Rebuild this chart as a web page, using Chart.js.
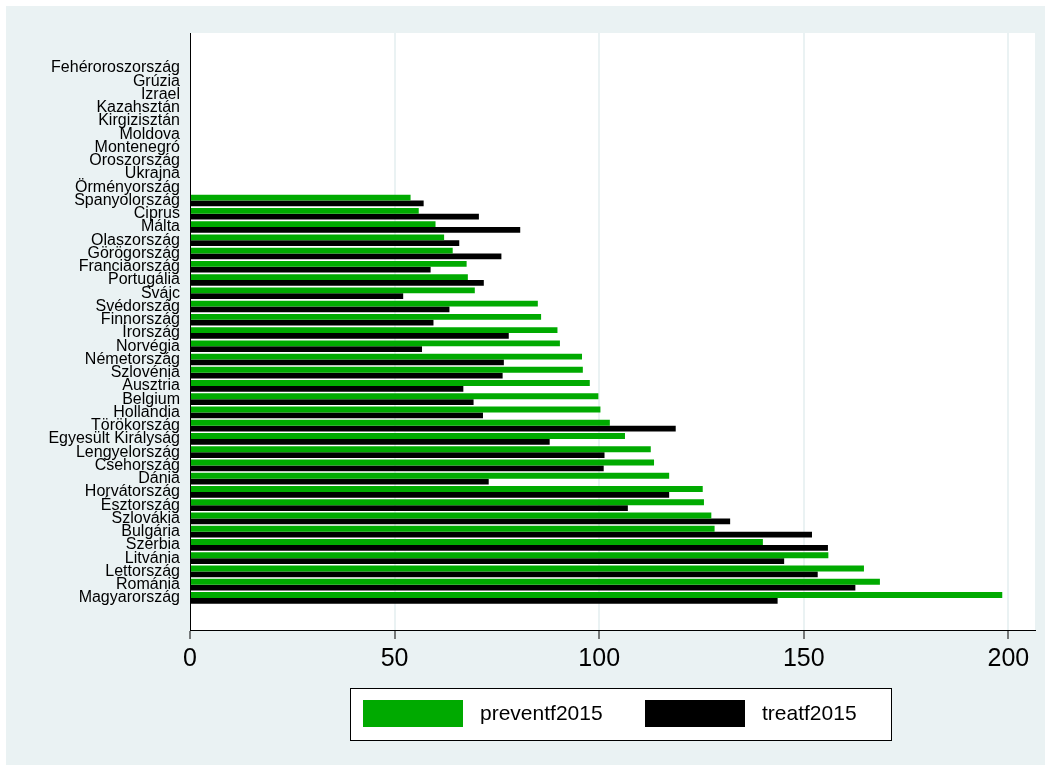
<!DOCTYPE html>
<html>
<head>
<meta charset="utf-8">
<script src="https://cdn.jsdelivr.net/npm/chart.js@4.4.1/dist/chart.umd.min.js"></script>
<style>
  html, body { margin: 0; padding: 0; background: #ffffff; }
  #wrap { width: 1051px; height: 771px; position: relative; }
</style>
</head>
<body>
<div id="wrap"><canvas id="chart" width="1051" height="771"></canvas></div>
<script>
// Countries, top to bottom
const countries = [
  'Fehéroroszország', 'Grúzia', 'Izrael', 'Kazahsztán', 'Kirgizisztán', 'Moldova',
  'Montenegró', 'Oroszország', 'Ukrajna', 'Örményország', 'Spanyolország', 'Ciprus',
  'Málta', 'Olaszország', 'Görögország', 'Franciaország', 'Portugália', 'Svájc',
  'Svédország', 'Finnország', 'Írország', 'Norvégia', 'Németország', 'Szlovénia',
  'Ausztria', 'Belgium', 'Hollandia', 'Törökország', 'Egyesült Királyság',
  'Lengyelország', 'Csehország', 'Dánia', 'Horvátország', 'Észtország', 'Szlovákia',
  'Bulgária', 'Szerbia', 'Litvánia', 'Lettország', 'Románia', 'Magyarország'
];

// Values per country (null = no data)
const preventf2015 = [
  null, null, null, null, null, null, null, null, null, null,
  53.9, 55.9, 60.0, 62.1, 64.2, 67.6, 67.9, 69.6, 85.0, 85.8,
  89.8, 90.4, 95.8, 96.0, 97.7, 99.8, 100.3, 102.6, 106.3, 112.6,
  113.4, 117.1, 125.3, 125.6, 127.4, 128.2, 140.0, 156.0, 164.7, 168.6,
  198.5
];
const treatf2015 = [
  null, null, null, null, null, null, null, null, null, null,
  57.1, 70.6, 80.7, 65.8, 76.1, 58.8, 71.8, 52.1, 63.4, 59.5,
  77.9, 56.7, 76.7, 76.4, 66.8, 69.3, 71.6, 118.7, 87.9, 101.3,
  101.1, 73.0, 117.1, 107.0, 132.0, 152.0, 155.9, 145.2, 153.4, 162.6,
  143.6
];

const seriesNames = ['preventf2015', 'treatf2015'];
const xTickValues = [0, 50, 100, 150, 200];

const GREEN = '#00aa00';
const BLACK = '#000000';
const BG = '#eaf2f3';
const FONT = '"Liberation Sans", Arial, sans-serif';

function toPoints(values) {
  const pts = [];
  values.forEach((v, i) => { if (v !== null) pts.push({ x: v, y: i }); });
  return pts;
}

// Backgrounds: outer frame, graph region, plot region
const backdrop = {
  id: 'backdrop',
  beforeDraw(chart) {
    const { ctx, chartArea: a } = chart;
    ctx.save();
    ctx.fillStyle = '#ffffff';
    ctx.fillRect(0, 0, chart.width, chart.height);
    ctx.fillStyle = BG;
    ctx.fillRect(6, 6, chart.width - 12, chart.height - 12);
    ctx.fillStyle = '#ffffff';
    ctx.fillRect(a.left, a.top, a.right - a.left, a.bottom - a.top);
    ctx.restore();
  }
};

// Boxed legend under the axis
const boxedLegend = {
  id: 'boxedLegend',
  afterDraw(chart) {
    const { ctx } = chart;
    const box = { x: 350.5, y: 688.5, w: 541, h: 52 };
    ctx.save();
    ctx.fillStyle = '#ffffff';
    ctx.fillRect(box.x, box.y, box.w, box.h);
    ctx.strokeStyle = '#000000';
    ctx.lineWidth = 1;
    ctx.strokeRect(box.x, box.y, box.w, box.h);
    const items = [
      { sx: 363, tx: 480 },
      { sx: 645, tx: 762 }
    ];
    ctx.font = '21px ' + FONT;
    ctx.textBaseline = 'middle';
    ctx.textAlign = 'left';
    chart.data.datasets.forEach((ds, i) => {
      const it = items[i];
      ctx.fillStyle = ds.backgroundColor;
      ctx.fillRect(it.sx, 700, 100, 27);
      ctx.fillStyle = '#000000';
      ctx.fillText(ds.label, it.tx, 714);
    });
    ctx.restore();
  }
};

new Chart(document.getElementById('chart'), {
  type: 'bar',
  data: {
    datasets: [
      {
        label: seriesNames[0],
        data: toPoints(preventf2015),
        backgroundColor: GREEN,
        borderWidth: 0
      },
      {
        label: seriesNames[1],
        data: toPoints(treatf2015),
        backgroundColor: BLACK,
        borderWidth: 0
      }
    ]
  },
  options: {
    indexAxis: 'y',
    responsive: false,
    animation: false,
    devicePixelRatio: 1,
    categoryPercentage: 0.88,
    barPercentage: 1.0,
    layout: { padding: { left: 0, top: 33, right: 16, bottom: 91 } },
    plugins: {
      legend: { display: false },
      tooltip: { enabled: false }
    },
    scales: {
      x: {
        type: 'linear',
        position: 'bottom',
        min: 0,
        max: 206.5,
        afterBuildTicks(scale) {
          scale.ticks = xTickValues.map(v => ({ value: v }));
        },
        afterFit(scale) { scale.height = 50; },
        grid: {
          color: ctx => (ctx.tick && ctx.tick.value === 0) ? 'rgba(0,0,0,0)' : BG,
          lineWidth: 2,
          drawTicks: true,
          tickLength: 9,
          tickColor: '#000000',
          tickWidth: 1
        },
        border: { display: true, color: '#000000', width: 1 },
        ticks: {
          color: '#000000',
          padding: 5,
          maxRotation: 0,
          font: { family: FONT, size: 25 }
        }
      },
      y: {
        type: 'linear',
        position: 'left',
        reverse: true,
        offset: false,
        min: -2.64,
        max: 42.42,
        afterBuildTicks(scale) {
          scale.ticks = countries.map((_, i) => ({ value: i }));
        },
        afterFit(scale) { scale.width = 190; },
        grid: { display: false, drawTicks: false, offset: false },
        border: { display: true, color: '#000000', width: 1 },
        ticks: {
          autoSkip: false,
          color: '#000000',
          padding: 10,
          font: { family: FONT, size: 16, lineHeight: 1.0 },
          callback: v => countries[v] ?? ''
        }
      }
    }
  },
  plugins: [backdrop, boxedLegend]
});
</script>
</body>
</html>
